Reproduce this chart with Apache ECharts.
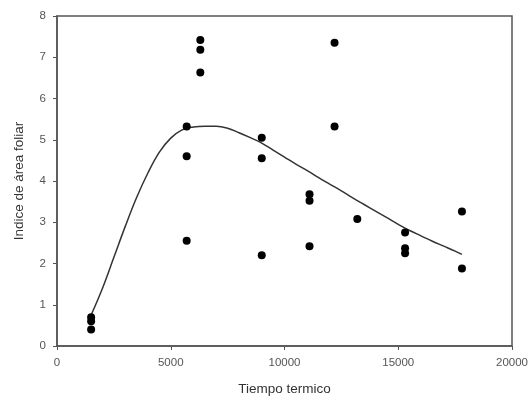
<!DOCTYPE html>
<html>
<head>
<meta charset="utf-8">
<script src="https://cdn.jsdelivr.net/npm/echarts@6/dist/echarts.min.js"></script>
<style>
  html, body { margin: 0; padding: 0; background: #fff; }
  #chart { width: 532px; height: 401px; }
</style>
</head>
<body>
<div id="chart"></div>
<script>
// Observed leaf area index by thermal time
const obsX = [1500, 1500, 1500, 5700, 5700, 5700, 6300, 6300, 6300,
              9000, 9000, 9000, 11100, 11100, 11100, 12200, 12200, 13200,
              15300, 15300, 15300, 17800, 17800];
const obsY = [0.7, 0.6, 0.4, 5.32, 4.6, 2.55, 7.42, 7.18, 6.63,
              5.05, 4.55, 2.2, 3.68, 3.52, 2.42, 7.35, 5.32, 3.08,
              2.75, 2.37, 2.25, 3.26, 1.88];

// Fitted curve
const fitX = [1500, 2000, 2500, 3000, 3500, 4000, 4500, 5000, 5500, 6000,
              6500, 7000, 7500, 8000, 8500, 9000, 9500, 10000, 10500, 11000,
              11500, 12000, 12500, 13000, 13500, 14000, 14500, 15000, 15500,
              16000, 16500, 17000, 17500, 17800];
const fitY = [0.75, 1.4, 2.15, 2.9, 3.6, 4.2, 4.7, 5.04, 5.24, 5.31,
              5.33, 5.33, 5.28, 5.17, 5.05, 4.92, 4.75, 4.58, 4.41, 4.25,
              4.08, 3.92, 3.76, 3.59, 3.43, 3.27, 3.11, 2.95, 2.8,
              2.67, 2.54, 2.42, 2.3, 2.22];

const xTicks = { min: 0, max: 20000, interval: 5000 };
const yTicks = { min: 0, max: 8, interval: 1 };

const chart = echarts.init(document.getElementById('chart'), null, { renderer: 'canvas' });

const axisColor = '#555';
const fontFamily = 'Liberation Sans, Arial, sans-serif';
const labelStyle = { color: '#555', fontSize: 11.5, fontFamily };
const titleStyle = { color: '#333', fontSize: 13.5, fontFamily };

chart.setOption({
  animation: false,
  backgroundColor: '#fff',
  grid: {
    left: 57, right: 20, top: 16, bottom: 55,
    show: true, borderColor: axisColor, borderWidth: 1.5, backgroundColor: 'transparent'
  },
  xAxis: {
    type: 'value',
    min: xTicks.min, max: xTicks.max, interval: xTicks.interval,
    name: 'Tiempo termico',
    nameLocation: 'middle', nameGap: 36,
    nameTextStyle: titleStyle,
    axisLine: { show: true, lineStyle: { color: axisColor, width: 1.5 } },
    axisTick: { show: true, inside: false, length: 4, lineStyle: { color: axisColor } },
    axisLabel: Object.assign({ margin: 11, formatter: v => String(v) }, labelStyle),
    splitLine: { show: false }
  },
  yAxis: {
    type: 'value',
    min: yTicks.min, max: yTicks.max, interval: yTicks.interval,
    name: 'Indice de área foliar',
    nameLocation: 'middle', nameGap: 31,
    nameTextStyle: titleStyle,
    axisLine: { show: true, lineStyle: { color: axisColor, width: 1.5 } },
    axisTick: { show: true, inside: false, length: 4, lineStyle: { color: axisColor } },
    axisLabel: Object.assign({ margin: 11 }, labelStyle),
    splitLine: { show: false }
  },
  series: [
    {
      type: 'line',
      data: fitX.map((x, i) => [x, fitY[i]]),
      smooth: 0.4,
      showSymbol: false,
      lineStyle: { color: '#333', width: 1.5 },
      z: 2
    },
    {
      type: 'scatter',
      data: obsX.map((x, i) => [x, obsY[i]]),
      symbol: 'circle',
      symbolSize: 8,
      itemStyle: { color: '#000', opacity: 1 },
      z: 3
    }
  ]
});
</script>
</body>
</html>
